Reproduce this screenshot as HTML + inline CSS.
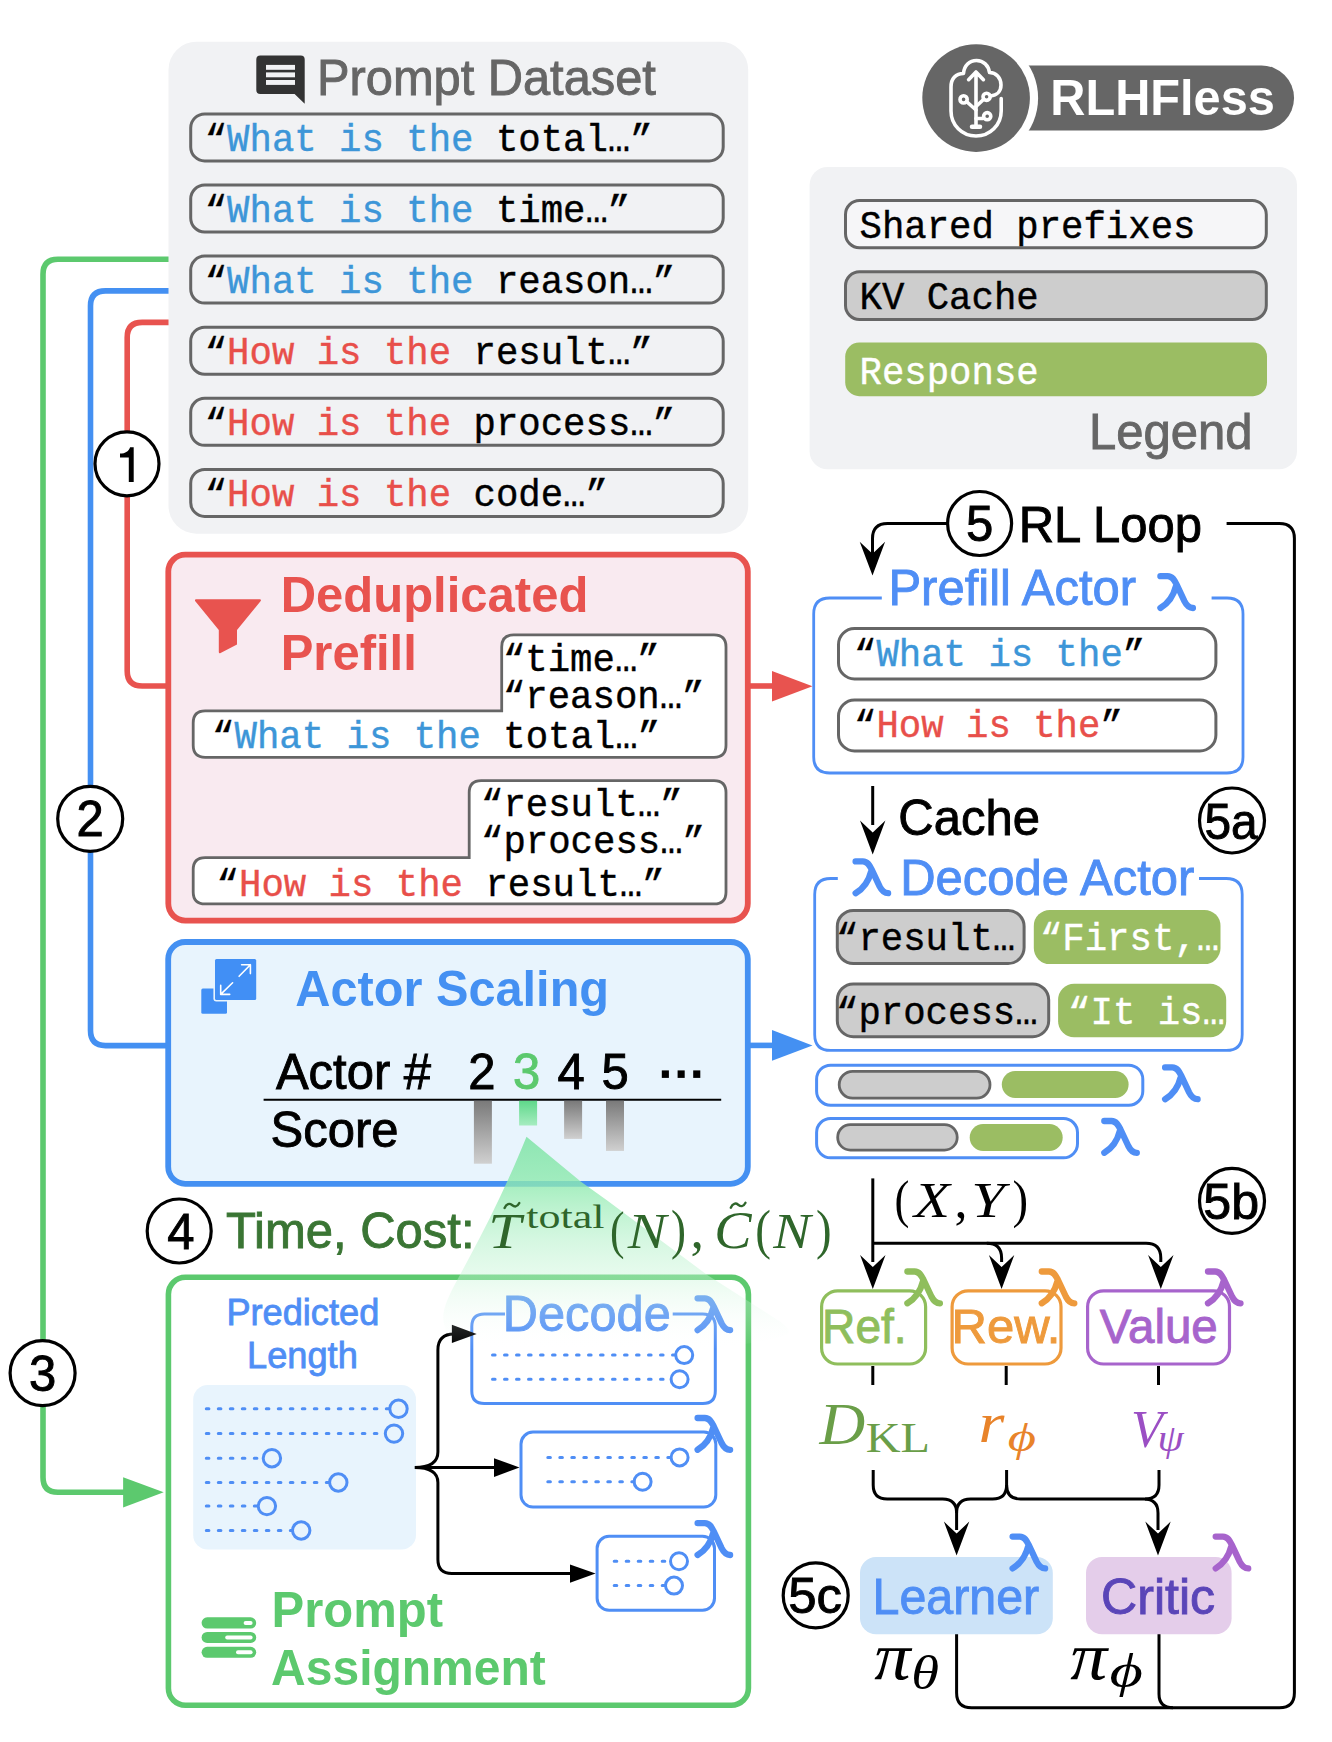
<!DOCTYPE html>
<html><head><meta charset="utf-8">
<style>
html,body{margin:0;padding:0;background:#fff;}
body{width:1332px;height:1742px;overflow:hidden;}
svg{display:block;}
.s{font-family:"Liberation Sans",sans-serif;}
.b{font-family:"Liberation Sans",sans-serif;font-weight:bold;}
.m{font-family:"Liberation Mono",monospace;font-size:37.33px;stroke:#000;stroke-width:0.4px;}
.bl{fill:#3d96d8;stroke:#3d96d8;}
.rd{fill:#e84f4a;stroke:#e84f4a;}
.wh{fill:#fff;stroke:#fff;}
.si{font-family:"Liberation Serif",serif;font-style:italic;}
.sr{font-family:"Liberation Serif",serif;}
</style></head>
<body>
<svg width="1332" height="1742" viewBox="0 0 1332 1742">
<defs>
  <g id="lam"><path d="M0,0 H7.2 C12,0 14,4 16,8 L24,25 C26,29 28,31.8 32.5,31.8 M15.5,10 C13,20 8,27 0,31.8" fill="none" stroke-width="6.3" stroke-linecap="round" stroke-linejoin="round"/></g>
  <linearGradient id="barg" x1="0" y1="0" x2="0" y2="1"><stop offset="0" stop-color="#7a7a7a"/><stop offset="1" stop-color="#d0d0d0"/></linearGradient>
  <linearGradient id="bargreen" x1="0" y1="0" x2="0" y2="1"><stop offset="0" stop-color="#5fd88a"/><stop offset="1" stop-color="#a6ecc0"/></linearGradient>
  <linearGradient id="cone" gradientUnits="userSpaceOnUse" x1="0" y1="1137" x2="0" y2="1350">
    <stop offset="0" stop-color="rgb(120,226,160)" stop-opacity="0.8"/>
    <stop offset="0.216" stop-color="rgb(143,234,175)" stop-opacity="0.8"/>
    <stop offset="0.484" stop-color="rgb(185,242,205)" stop-opacity="0.6"/>
    <stop offset="0.67" stop-color="rgb(200,245,215)" stop-opacity="0.4"/>
    <stop offset="0.836" stop-color="rgb(230,250,238)" stop-opacity="0.22"/>
    <stop offset="1" stop-color="rgb(255,255,255)" stop-opacity="0"/>
  </linearGradient>
</defs>

<!-- ===== LEFT FLOW LINES ===== -->
<g fill="none" stroke-width="5.6" stroke-linejoin="round">
  <path d="M175,259.3 H58 Q43,259.3 43,274.3 V1477.2 Q43,1492.2 58,1492.2 H126" stroke="#5cc96e"/>
  <path d="M175,290.9 H105.5 Q90.5,290.9 90.5,305.9 V1030.6 Q90.5,1045.6 105.5,1045.6 H170" stroke="#4490f2"/>
  <path d="M175,322.4 H142.2 Q127.2,322.4 127.2,337.4 V671 Q127.2,686 142.2,686 H170" stroke="#e8534f"/>
</g>
<path d="M123.1,1477.2 L163.7,1492.2 L123.1,1507.5 Z" fill="#5cc96e"/>

<!-- ===== PROMPT DATASET PANEL ===== -->
<rect x="168.5" y="41.7" width="579.7" height="492" rx="28" fill="#f1f2f4"/>
<path d="M256.3,59.6 Q256.3,55.6 260.3,55.6 H300.7 Q304.7,55.6 304.7,59.6 V103.8 L294.6,93.9 H260.3 Q256.3,93.9 256.3,89.9 Z" fill="#333"/>
<g fill="#f1f2f4"><rect x="266" y="64.9" width="29" height="4.9"/><rect x="266" y="72.4" width="29" height="4.9"/><rect x="266" y="80" width="29" height="4.9"/></g>
<text class="s" x="317" y="95.3" font-size="48.8" fill="#666" transform="matrix(1 0 0 1.03 0 -2.859)" stroke="#666" stroke-width="0.9">Prompt Dataset</text>
<g fill="none" stroke="#666" stroke-width="3">
  <rect x="190.7" y="113.9" width="532.5" height="47" rx="14"/>
  <rect x="190.7" y="185" width="532.5" height="47" rx="14"/>
  <rect x="190.7" y="256.1" width="532.5" height="47" rx="14"/>
  <rect x="190.7" y="327.2" width="532.5" height="47" rx="14"/>
  <rect x="190.7" y="398.3" width="532.5" height="47" rx="14"/>
  <rect x="190.7" y="469.4" width="532.5" height="47" rx="14"/>
</g>
<g class="m">
  <text x="204.7" y="151" transform="matrix(1 0 0 1.04 0 -6.040)">“<tspan class="bl">What is the</tspan> total…”</text>
  <text x="204.7" y="222.1" transform="matrix(1 0 0 1.04 0 -8.884)">“<tspan class="bl">What is the</tspan> time…”</text>
  <text x="204.7" y="293.2" transform="matrix(1 0 0 1.04 0 -11.728)">“<tspan class="bl">What is the</tspan> reason…”</text>
  <text x="204.7" y="364.3" transform="matrix(1 0 0 1.04 0 -14.572)">“<tspan class="rd">How is the</tspan> result…”</text>
  <text x="204.7" y="435.4" transform="matrix(1 0 0 1.04 0 -17.416)">“<tspan class="rd">How is the</tspan> process…”</text>
  <text x="204.7" y="506.5" transform="matrix(1 0 0 1.04 0 -20.260)">“<tspan class="rd">How is the</tspan> code…”</text>
</g>

<!-- step circles left -->
<g fill="#fff" stroke="#000" stroke-width="3.2">
  <circle cx="127" cy="463.8" r="32"/>
  <circle cx="90.2" cy="818.8" r="32.5"/>
  <circle cx="42.6" cy="1373.1" r="32.5"/>
  <circle cx="179.2" cy="1231" r="32"/>
</g>
<g class="s" stroke="#000" stroke-width="0.9" font-size="49" text-anchor="middle" fill="#000">
  <text x="90.2" y="836.3" transform="matrix(1 0 0 1.03 0 -25.089)">2</text>
  <text x="42.6" y="1390.6" transform="matrix(1 0 0 1.03 0 -41.718)">3</text>
  <text x="181" y="1248.6" transform="matrix(1 0 0 1.03 0 -37.458)">4</text>
</g>

<path d="M128.8,481.9 H133.7 V447.2 H130.1 C129,451 125.5,453.5 120,453.6 V457.5 H128.8 Z" fill="#000"/>
<!-- ===== RED DEDUP BOX ===== -->
<rect x="168.3" y="554.6" width="579.5" height="366" rx="17" fill="#f9eaf0" stroke="#e8534f" stroke-width="5.8"/>
<path d="M196.1,599.2 H259.7 Q261.5,599.2 260.7,601 L237,630 V644.5 L220.1,653.2 Q218.8,653.5 218.8,652 V630 L195.1,601 Q194.5,599.2 196.1,599.2 Z" fill="#e8534f"/>
<text class="b" x="280.7" y="612" font-size="49" fill="#e8534f" transform="matrix(1 0 0 1.03 0 -18.360)">Deduplicated</text>
<text class="b" x="280.7" y="670.5" font-size="49" fill="#e8534f" transform="matrix(1 0 0 1.03 0 -20.115)">Prefill</text>
<g fill="#fff" stroke="#666" stroke-width="2.8">
  <path d="M193.2,722.9 Q193.2,710.9 205.2,710.9 H501.7 V646.9 Q501.7,634.9 513.7,634.9 H714 Q726,634.9 726,646.9 V745.3 Q726,757.3 714,757.3 H205.2 Q193.2,757.3 193.2,745.3 Z"/>
  <path d="M193.2,869.6 Q193.2,857.6 205.2,857.6 H469.2 V792.6 Q469.2,780.6 481.2,780.6 H714 Q726,780.6 726,792.6 V891.9 Q726,903.9 714,903.9 H205.2 Q193.2,903.9 193.2,891.9 Z"/>
</g>
<g class="m">
  <text x="502.9" y="671.3" transform="matrix(1 0 0 1.04 0 -26.852)">“time…”</text>
  <text x="502.9" y="708.3" transform="matrix(1 0 0 1.04 0 -28.332)">“reason…”</text>
  <text x="212.1" y="748.2" transform="matrix(1 0 0 1.04 0 -29.928)">“<tspan class="bl">What is the</tspan> total…”</text>
  <text x="481" y="816.2" transform="matrix(1 0 0 1.04 0 -32.648)">“result…”</text>
  <text x="481" y="853.2" transform="matrix(1 0 0 1.04 0 -34.128)">“process…”</text>
  <text x="216.6" y="896" transform="matrix(1 0 0 1.04 0 -35.840)">“<tspan class="rd">How is the</tspan> result…”</text>
</g>
<!-- red arrow to prefill actor -->
<path d="M750,686 H775" stroke="#e8534f" stroke-width="5.6"/>
<path d="M772,671 L812.5,686.3 L772,701.6 Z" fill="#e8534f"/>

<!-- ===== BLUE ACTOR SCALING BOX ===== -->
<rect x="168.2" y="942" width="579.6" height="241.8" rx="17" fill="#e8f4fd" stroke="#4490f2" stroke-width="5.8"/>
<rect x="201.3" y="988.4" width="25.7" height="25.4" rx="1.5" fill="#418ff5"/>
<rect x="213.4" y="957.3" width="44.4" height="44.2" rx="3" fill="#e8f4fd"/>
<rect x="215" y="958.9" width="41.2" height="41" rx="1.5" fill="#418ff5"/>
<g fill="none" stroke="#fff" stroke-width="1.6" stroke-linecap="round" stroke-linejoin="round">
  <path d="M239.1,976.3 L250.4,964.7 M241.6,964.7 H250.4 V973.6"/>
  <path d="M232.6,982.8 L220.7,994.4 M220.7,985.4 V994.4 H229.7"/>
</g>
<text class="b" x="295.3" y="1005.6" font-size="48.7" fill="#4490f2" transform="matrix(1 0 0 1.03 0 -30.168)">Actor Scaling</text>
<text class="s" x="275.9" y="1088.8" font-size="49" fill="#000" transform="matrix(1 0 0 1.03 0 -32.664)" stroke="#000" stroke-width="0.9">Actor #</text>
<g class="s" stroke="#000" stroke-width="0.9" font-size="49">
  <text x="468.3" y="1089" transform="matrix(1 0 0 1.03 0 -32.670)">2</text>
  <text x="513" y="1089" fill="#5cc96e" transform="matrix(1 0 0 1.03 0 -32.670)" stroke="#5cc96e">3</text>
  <text x="557.6" y="1089" transform="matrix(1 0 0 1.03 0 -32.670)">4</text>
  <text x="601.4" y="1089" transform="matrix(1 0 0 1.03 0 -32.670)">5</text>
</g>
<g fill="#000"><rect x="661.8" y="1070.4" width="7.1" height="7.5"/><rect x="677.6" y="1070.4" width="7.1" height="7.5"/><rect x="693.2" y="1070.4" width="7.1" height="7.5"/></g>
<path d="M263.6,1099.8 H721.2" stroke="#000" stroke-width="2"/>
<text class="s" x="270.5" y="1146.7" font-size="49" fill="#000" transform="matrix(1 0 0 1.03 0 -34.401)" stroke="#000" stroke-width="0.9">Score</text>
<rect x="473.9" y="1100.8" width="18" height="62.9" fill="url(#barg)"/>
<rect x="519.1" y="1100.8" width="18" height="24.7" fill="url(#bargreen)"/>
<rect x="564.1" y="1100.8" width="18" height="38.1" fill="url(#barg)"/>
<rect x="606" y="1100.8" width="18" height="50.1" fill="url(#barg)"/>
<!-- blue arrow to decode actor -->
<path d="M750,1045.4 H775" stroke="#4490f2" stroke-width="5.6"/>
<path d="M772,1030.1 L812.5,1045.4 L772,1060.7 Z" fill="#4490f2"/>

<!-- ===== GREEN PROMPT ASSIGNMENT BOX ===== -->
<rect x="168.4" y="1277.3" width="580" height="427.9" rx="17" fill="#fff" stroke="#5cc96e" stroke-width="5.6"/>
<g class="s" stroke="#4f8ef5" stroke-width="0.8" font-size="36.2" fill="#4f8ef5">
  <text x="226.4" y="1325.2" transform="matrix(1 0 0 1.03 0 -39.756)">Predicted</text>
  <text x="247.1" y="1368.4" transform="matrix(1 0 0 1.03 0 -41.052)">Length</text>
</g>
<rect x="193.2" y="1385" width="222.8" height="164.4" rx="14.5" fill="#e8f4fd"/>
<g stroke="#4f8ef5" stroke-width="3" fill="none">
  <g stroke-dasharray="2.6 9.4" stroke-linecap="round">
    <path d="M206.3,1408.8 H389.5"/>
    <path d="M206.3,1433.6 H385"/>
    <path d="M206.3,1458.2 H263"/>
    <path d="M206.3,1482.5 H329"/>
    <path d="M206.3,1506.1 H258"/>
    <path d="M206.3,1530.5 H292"/>
    <path d="M492.5,1355.1 H675"/>
    <path d="M492.5,1379.3 H670"/>
    <path d="M547.8,1457.4 H671"/>
    <path d="M547.8,1481.7 H634"/>
    <path d="M614.2,1561.3 H670"/>
    <path d="M614.2,1585.6 H665"/>
  </g>
  <circle cx="398.5" cy="1408.8" r="8.7"/>
  <circle cx="394" cy="1433.6" r="8.7"/>
  <circle cx="271.9" cy="1458.2" r="8.7"/>
  <circle cx="338.3" cy="1482.5" r="8.7"/>
  <circle cx="266.9" cy="1506.1" r="8.7"/>
  <circle cx="301.2" cy="1530.5" r="8.7"/>
  <circle cx="684.2" cy="1355.1" r="8.5"/>
  <circle cx="679.6" cy="1379.3" r="8.5"/>
  <circle cx="679.6" cy="1457.4" r="8.5"/>
  <circle cx="642.6" cy="1481.7" r="8.5"/>
  <circle cx="679" cy="1561.3" r="8.5"/>
  <circle cx="674" cy="1585.6" r="8.5"/>
  <!-- decode boxes -->
  <path d="M505,1314 H484.3 Q471.8,1314 471.8,1326.5 V1390.9 Q471.8,1403.4 484.3,1403.4 H702.8 Q715.3,1403.4 715.3,1390.9 V1326.5 Q715.3,1314 702.8,1314 H672.7"/>
  <rect x="521" y="1432.1" width="194.8" height="74.9" rx="12"/>
  <rect x="597.1" y="1536.3" width="117.4" height="74" rx="12"/>
</g>
<text class="s" x="502.8" y="1331.3" font-size="49" fill="#4f8ef5" textLength="168" lengthAdjust="spacingAndGlyphs" transform="matrix(1 0 0 1.03 0 -39.939)" stroke="#4f8ef5" stroke-width="0.9">Decode</text>
<g stroke="#4f8ef5">
  <use href="#lam" transform="translate(697.6,1298.3)"/>
  <use href="#lam" transform="translate(697.6,1418)"/>
  <use href="#lam" transform="translate(697.6,1523.2)"/>
</g>
<!-- brace + arrows -->
<g fill="none" stroke="#000" stroke-width="3">
  <path d="M414.7,1467.4 H500 M414.7,1467.4 Q437.9,1467.4 437.9,1452 V1350 Q437.9,1334 454,1334 M414.7,1467.4 Q437.9,1467.4 437.9,1482.5 V1559.6 Q437.9,1573.6 451.9,1573.6 H575"/>
</g>
<g fill="#000">
  <path d="M451.9,1324.8 L476.7,1333.9 L451.9,1343 Z"/>
  <path d="M494,1458.2 L519.5,1467.6 L494,1477 Z"/>
  <path d="M570,1564.4 L595.6,1573.6 L570,1582.8 Z"/>
</g>
<!-- prompt icon -->
<g fill="#5cc96e">
  <rect x="201.6" y="1617.3" width="54.6" height="11.3" rx="5.65"/>
  <rect x="201.6" y="1631.9" width="54.6" height="11" rx="5.5"/>
  <rect x="201.6" y="1646.8" width="54.6" height="11" rx="5.5"/>
</g>
<g fill="#fff">
  <rect x="243.6" y="1621" width="9" height="4" rx="2"/>
  <rect x="225.2" y="1635.4" width="27.4" height="4" rx="2"/>
  <rect x="236" y="1650.3" width="16.6" height="4" rx="2"/>
</g>
<text class="b" x="271.6" y="1627.5" font-size="49" fill="#5cc96e" transform="matrix(1 0 0 1.03 0 -48.825)">Prompt</text>
<text class="b" x="271.1" y="1685.4" font-size="48" fill="#5cc96e" transform="matrix(1 0 0 1.03 0 -50.562)">Assignment</text>

<!-- ===== CONE ===== -->
<path d="M526.5,1136.7 C510.5,1176.7 489.6,1220 468,1260 L457.5,1279.5 C447,1299 441,1312 444,1324 C447,1337 455,1345 470,1350 L620,1356 C700,1352 770,1342 786,1335 C792,1331 788,1327 778.4,1320.4 L707.3,1275 L606.2,1199.8 L581,1181.8 Z" fill="url(#cone)"/>
<!-- ===== TIME COST ===== -->
<text class="s" x="225.9" y="1247.6" font-size="49" fill="#3a7534" transform="matrix(1 0 0 1.03 0 -37.428)" stroke="#3a7534" stroke-width="0.9">Time, Cost:</text>
<g fill="#2f662b">
  <text class="si" x="488.3" y="1247.7" font-size="50.5" textLength="32.8" lengthAdjust="spacingAndGlyphs">T</text>
  <text class="sr" x="526.2" y="1227.8" font-size="33.5" textLength="78.3" lengthAdjust="spacingAndGlyphs">total</text>
  <text class="sr" x="609.9" y="1248.2" font-size="53.4" textLength="14.5" lengthAdjust="spacingAndGlyphs">(</text>
  <text class="si" x="627.8" y="1248.2" font-size="51.5" textLength="38.7" lengthAdjust="spacingAndGlyphs">N</text>
  <text class="sr" x="671" y="1248.2" font-size="54" textLength="15" lengthAdjust="spacingAndGlyphs">)</text>
  <text class="sr" x="690.6" y="1248.2" font-size="54">,</text>
  <text class="si" x="714.3" y="1248.2" font-size="52.9" textLength="37.3" lengthAdjust="spacingAndGlyphs">C</text>
  <text class="sr" x="755.3" y="1248.2" font-size="54" textLength="15.7" lengthAdjust="spacingAndGlyphs">(</text>
  <text class="si" x="773.2" y="1248.2" font-size="51.5" textLength="37.4" lengthAdjust="spacingAndGlyphs">N</text>
  <text class="sr" x="815.9" y="1248.2" font-size="54" textLength="15.6" lengthAdjust="spacingAndGlyphs">)</text>
</g>
<g fill="none" stroke="#2f662b" stroke-width="2.4" stroke-linecap="round">
  <path d="M504.6,1208 C506.5,1203.5 509.5,1203 512,1205 C514.5,1207 517,1207.5 519.3,1203"/>
  <path d="M730.8,1207.7 C732.7,1203.2 735.7,1202.7 738.2,1204.7 C740.7,1206.7 743.2,1207.2 745.5,1202.7"/>
</g>
<!-- ===== LOGO ===== -->
<path d="M1000,65.5 H1261.5 A32.55,32.55 0 0 1 1261.5,130.6 H1000 Z" fill="#666"/>
<circle cx="976.1" cy="98.1" r="62" fill="#fff"/>
<circle cx="976.1" cy="98.1" r="53.8" fill="#666"/>
<g fill="none" stroke="#fff" stroke-width="3.6" stroke-linecap="round" stroke-linejoin="round">
  <path d="M1001.2,98.5 V111 C1001.2,125 990,136 976,136 C962,136 951,125 951,111 V87 C951,78.5 956,73.5 963.5,73.5 C964,65.5 969.5,60.5 976.5,60.5 C983.5,60.5 988.5,65.5 989.5,72.5 C996,72.5 1001,77.5 1001,85 C1001,91 997,95.5 990.5,96"/>
  <path d="M976,72 V126.5 M968.6,79.7 L976,72 L983.4,79.7"/>
  <path d="M976,110 L966.5,101.5 M976,106.5 L983.5,99.5 M976,118.5 H983"/>
  <path d="M972,126.8 H980" stroke-width="4.5"/>
  <circle cx="963.6" cy="99.4" r="3.6"/>
  <circle cx="986.6" cy="96.8" r="3.6"/>
  <circle cx="987.2" cy="116.2" r="3.6"/>
</g>
<text class="b" x="1050.3" y="115.1" font-size="48.7" fill="#fff" transform="matrix(1 0 0 1.03 0 -3.453)">RLHFless</text>

<!-- ===== LEGEND ===== -->
<rect x="809.6" y="166.9" width="487.4" height="302.4" rx="18" fill="#f1f2f4"/>
<rect x="845.5" y="200.5" width="420.8" height="47.2" rx="14" fill="#f6f6f8" stroke="#666" stroke-width="3"/>
<rect x="845.5" y="271.8" width="420.8" height="47.7" rx="14" fill="#cdcdcd" stroke="#666" stroke-width="3"/>
<rect x="845.2" y="342.6" width="421.8" height="53.6" rx="14" fill="#9bbd63"/>
<g class="m">
  <text x="859.5" y="238.5" transform="matrix(1 0 0 1.04 0 -9.540)">Shared prefixes</text>
  <text x="859.5" y="309.3" transform="matrix(1 0 0 1.04 0 -12.372)">KV Cache</text>
  <text x="859.5" y="384" class="wh" transform="matrix(1 0 0 1.04 0 -15.360)">Response</text>
</g>
<text class="s" x="1088.9" y="449" font-size="49" fill="#666" transform="matrix(1 0 0 1.03 0 -13.470)" stroke="#666" stroke-width="0.9">Legend</text>

<!-- ===== RL LOOP ===== -->
<g fill="none" stroke="#000" stroke-width="3">
  <path d="M947,523.5 H887.5 Q872.5,523.5 872.5,538.5 V556"/>
  <path d="M1226.6,523.5 H1279.4 Q1294.4,523.5 1294.4,538.5 V1692.8 Q1294.4,1707.8 1279.4,1707.8 H971.6 Q956.6,1707.8 956.6,1692.8 V1634"/>
  <path d="M1159,1634 V1694 Q1159,1707.8 1173,1707.8"/>
</g>
<circle cx="979.6" cy="523.5" r="32" fill="#fff" stroke="#000" stroke-width="3.2"/>
<text class="s" x="979.6" y="541" font-size="49" text-anchor="middle" transform="matrix(1 0 0 1.03 0 -16.230)" stroke="#000" stroke-width="0.9">5</text>
<text class="s" x="1018.7" y="542.2" font-size="49" transform="matrix(1 0 0 1.03 0 -16.266)" stroke="#000" stroke-width="0.9">RL Loop</text>
<path d="M872.5,575.6 L859.7,541.7 L872.5,553.7 L885.1,541.7 Z" fill="#000"/>

<!-- ===== PREFILL ACTOR ===== -->
<path d="M881.8,598 H829.7 Q813.7,598 813.7,614 V757 Q813.7,773 829.7,773 H1227 Q1243,773 1243,757 V614 Q1243,598 1227,598 H1211.6" fill="none" stroke="#4f8ef5" stroke-width="2.8"/>
<text class="s" x="888.4" y="605.3" font-size="49" fill="#4f8ef5" transform="matrix(1 0 0 1.03 0 -18.159)" stroke="#4f8ef5" stroke-width="0.9">Prefill Actor</text>
<use href="#lam" transform="translate(1160.4,576.2)" stroke="#4f8ef5"/>
<rect x="838.5" y="628.5" width="377.4" height="50.5" rx="16" fill="#fff" stroke="#666" stroke-width="3"/>
<rect x="838.5" y="700.1" width="377.4" height="50.8" rx="16" fill="#fff" stroke="#666" stroke-width="3"/>
<g class="m">
  <text x="854" y="666.2" transform="matrix(1 0 0 1.04 0 -26.648)">“<tspan class="bl">What is the</tspan>”</text>
  <text x="854" y="737.3" transform="matrix(1 0 0 1.04 0 -29.492)">“<tspan class="rd">How is the</tspan>”</text>
</g>

<!-- ===== CACHE ===== -->
<path d="M872.7,786 V825" stroke="#000" stroke-width="3" fill="none"/>
<path d="M872.7,854.5 L860,820.6 L872.7,832.6 L885.4,820.6 Z" fill="#000"/>
<text class="s" x="898.3" y="835.2" font-size="49" transform="matrix(1 0 0 1.03 0 -25.056)" stroke="#000" stroke-width="0.9">Cache</text>
<circle cx="1232" cy="820.5" r="32.5" fill="#fff" stroke="#000" stroke-width="3.2"/>
<text class="s" x="1204.4" y="838.6" font-size="49" textLength="53.2" lengthAdjust="spacingAndGlyphs" transform="matrix(1 0 0 1.03 0 -25.158)" stroke="#000" stroke-width="0.9">5a</text>

<!-- ===== DECODE ACTOR ===== -->
<path d="M837.8,878.5 H830.7 Q814.7,878.5 814.7,894.5 V1034.4 Q814.7,1050.4 830.7,1050.4 H1226.2 Q1242.2,1050.4 1242.2,1034.4 V894.5 Q1242.2,878.5 1226.2,878.5 H1199" fill="none" stroke="#4f8ef5" stroke-width="2.8"/>
<use href="#lam" transform="translate(855.6,861.4)" stroke="#4f8ef5"/>
<text class="s" x="900.2" y="895.3" font-size="49" fill="#4f8ef5" transform="matrix(1 0 0 1.03 0 -26.859)" stroke="#4f8ef5" stroke-width="0.9">Decode Actor</text>
<g stroke="#666" stroke-width="3" fill="#cdcdcd">
  <rect x="837.3" y="910.4" width="186.8" height="53.2" rx="16"/>
  <rect x="837.3" y="983.9" width="211.4" height="52.8" rx="16"/>
</g>
<g fill="#9bbd63">
  <rect x="1033.8" y="909.9" width="186.7" height="54.2" rx="16"/>
  <rect x="1058.1" y="983.7" width="168.1" height="53.6" rx="16"/>
</g>
<clipPath id="cg1"><rect x="1033.8" y="905" width="186.7" height="64"/></clipPath>
<clipPath id="cg2"><rect x="1058.1" y="980" width="168.1" height="64"/></clipPath>
<g class="m">
  <text x="836" y="949.9" transform="matrix(1 0 0 1.04 0 -37.996)">“result…</text>
  <text x="836" y="1024" transform="matrix(1 0 0 1.04 0 -40.960)">“process…</text>
  <text x="1039.9" y="949.9" class="wh" clip-path="url(#cg1)" transform="matrix(1 0 0 1.04 0 -37.996)">“First,…</text>
  <text x="1068.1" y="1024" class="wh" clip-path="url(#cg2)" transform="matrix(1 0 0 1.04 0 -40.960)">“It is…</text>
</g>
<!-- small actor rows -->
<g fill="none" stroke="#4f8ef5" stroke-width="3">
  <rect x="816.6" y="1065.2" width="326.2" height="40" rx="14"/>
  <rect x="816.6" y="1118.5" width="260.9" height="39.3" rx="14"/>
</g>
<g stroke="#666" stroke-width="2.8" fill="#cdcdcd">
  <rect x="839.2" y="1071.3" width="150.8" height="26.8" rx="13.4"/>
  <rect x="837.7" y="1124.6" width="119.5" height="25.5" rx="12.7"/>
</g>
<g fill="#9bbd63">
  <rect x="1001.8" y="1071.1" width="126.8" height="26.8" rx="13.4"/>
  <rect x="969.7" y="1124.1" width="93" height="26.8" rx="13.4"/>
</g>
<g stroke="#4f8ef5">
  <use href="#lam" transform="translate(1165.1,1067.4)"/>
  <use href="#lam" transform="translate(1104.3,1121)"/>
</g>

<!-- ===== 5b: (X,Y) & models ===== -->
<g fill="none" stroke="#000" stroke-width="3">
  <path d="M872.8,1178.4 V1262"/>
  <path d="M872.8,1243.2 H986.8 Q1001.6,1243.2 1001.6,1258 V1262"/>
  <path d="M986.8,1243.2 H1146 Q1160.8,1243.2 1160.8,1258 V1262"/>
</g>
<g fill="#000">
  <path d="M872.8,1289 L860.1,1255.1 L872.8,1267.1 L885.5,1255.1 Z"/>
  <path d="M1001.6,1289 L988.9,1255.1 L1001.6,1267.1 L1014.3,1255.1 Z"/>
  <path d="M1160.8,1289 L1148.1,1255.1 L1160.8,1267.1 L1173.5,1255.1 Z"/>
</g>
<g fill="#000">
  <text class="sr" x="894.5" y="1217.4" font-size="53.7" textLength="14.9" lengthAdjust="spacingAndGlyphs">(</text>
  <text class="si" x="914" y="1217" font-size="51.6" textLength="36" lengthAdjust="spacingAndGlyphs">X</text>
  <text class="sr" x="954.5" y="1217" font-size="52">,</text>
  <text class="si" x="971.2" y="1217" font-size="51.6" textLength="33.5" lengthAdjust="spacingAndGlyphs">Y</text>
  <text class="sr" x="1012.5" y="1217.4" font-size="53.7" textLength="15.6" lengthAdjust="spacingAndGlyphs">)</text>
</g>
<circle cx="1232" cy="1200.9" r="32.5" fill="#fff" stroke="#000" stroke-width="3.2"/>
<text class="s" x="1203.3" y="1218.6" font-size="49" textLength="55.8" lengthAdjust="spacingAndGlyphs" transform="matrix(1 0 0 1.03 0 -36.558)" stroke="#000" stroke-width="0.9">5b</text>

<rect x="821.6" y="1290.8" width="104" height="73.2" rx="16" fill="#fff" stroke="#8fbe5c" stroke-width="3.2"/>
<rect x="952.1" y="1290.8" width="108.9" height="73.2" rx="16" fill="#fff" stroke="#ee9a3c" stroke-width="3.2"/>
<rect x="1087.6" y="1290.8" width="141.9" height="73.2" rx="16" fill="#fff" stroke="#a764cc" stroke-width="3.2"/>
<text class="s" x="822.1" y="1343.3" font-size="46.5" fill="#8fbe5c" textLength="84.6" lengthAdjust="spacingAndGlyphs" transform="matrix(1 0 0 1.03 0 -40.299)" stroke="#8fbe5c" stroke-width="0.9">Ref.</text>
<text class="s" x="951.5" y="1343.3" font-size="46.5" fill="#ee9a3c" textLength="109" lengthAdjust="spacingAndGlyphs" transform="matrix(1 0 0 1.03 0 -40.299)" stroke="#ee9a3c" stroke-width="0.9">Rew.</text>
<text class="s" x="1099.8" y="1343.3" font-size="46.5" fill="#a764cc" textLength="118" lengthAdjust="spacingAndGlyphs" transform="matrix(1 0 0 1.03 0 -40.299)" stroke="#a764cc" stroke-width="0.9">Value</text>
<use href="#lam" transform="translate(907.4,1271.5)" stroke="#8fbe5c"/>
<use href="#lam" transform="translate(1041.8,1271.5)" stroke="#ee9a3c"/>
<use href="#lam" transform="translate(1208,1271.5)" stroke="#a764cc"/>
<g stroke="#000" stroke-width="3" fill="none">
  <path d="M872.8,1366 V1385 M1006.2,1366 V1385 M1158.5,1366 V1385"/>
</g>
<text class="si" x="819.5" y="1444.1" font-size="59.4" fill="#6a9e48" textLength="45.7" lengthAdjust="spacingAndGlyphs">D</text>
<text class="sr" x="865.7" y="1452.1" font-size="42.5" fill="#6a9e48" textLength="64.3" lengthAdjust="spacingAndGlyphs">KL</text>
<text class="si" x="978.6" y="1442.4" font-size="57" fill="#e8832a" textLength="25.9" lengthAdjust="spacingAndGlyphs">r</text>
<text class="si" x="1007.8" y="1451.3" font-size="41" fill="#e8832a" textLength="28.3" lengthAdjust="spacingAndGlyphs">ϕ</text>
<text class="si" x="1130.9" y="1446.9" font-size="52.4" fill="#9b4fc4">V</text>
<text class="si" x="1157.4" y="1450.9" font-size="37" fill="#9b4fc4" textLength="26.2" lengthAdjust="spacingAndGlyphs">ψ</text>

<!-- ===== braces to learner / critic ===== -->
<g fill="none" stroke="#000" stroke-width="3">
  <path d="M873.2,1470 V1485 Q873.2,1499 887.2,1499 H942.6 Q956.6,1499 956.6,1513 V1530"/>
  <path d="M1006.6,1470 V1485 Q1006.6,1499 992.6,1499 H970.6 Q956.6,1499 956.6,1513"/>
  <path d="M1006.6,1485 Q1006.6,1499 1020.6,1499 H1144 Q1158,1499 1158,1513 V1530"/>
  <path d="M1159,1470 V1485 Q1159,1499 1145,1499"/>
</g>
<g fill="#000">
  <path d="M956.6,1555.5 L943.9,1521.6 L956.6,1533.6 L969.3,1521.6 Z"/>
  <path d="M1158,1555.5 L1145.3,1521.6 L1158,1533.6 L1170.7,1521.6 Z"/>
</g>
<circle cx="815.7" cy="1595.4" r="32.5" fill="#fff" stroke="#000" stroke-width="3.2"/>
<text class="s" x="788.3" y="1613.5" font-size="49" textLength="53.8" lengthAdjust="spacingAndGlyphs" transform="matrix(1 0 0 1.03 0 -48.405)" stroke="#000" stroke-width="0.9">5c</text>
<rect x="860" y="1557" width="192.8" height="77.3" rx="16" fill="#cce3f8"/>
<rect x="1086" y="1557" width="145.6" height="77.3" rx="16" fill="#e4cdea"/>
<text class="s" x="872.5" y="1613.6" font-size="49" fill="#4f8ef5" textLength="166.7" lengthAdjust="spacingAndGlyphs" transform="matrix(1 0 0 1.03 0 -48.408)" stroke="#4f8ef5" stroke-width="0.9">Learner</text>
<text class="s" x="1101" y="1613.6" font-size="49" fill="#5a45b8" textLength="114.2" lengthAdjust="spacingAndGlyphs" transform="matrix(1 0 0 1.03 0 -48.408)" stroke="#5a45b8" stroke-width="0.9">Critic</text>
<use href="#lam" transform="translate(1012.6,1536.6)" stroke="#4f8ef5"/>
<use href="#lam" transform="translate(1215.7,1536.6)" stroke="#a764cc"/>
<g fill="#000">
  <text class="si" x="874.2" y="1678.9" font-size="67.2" textLength="36.4" lengthAdjust="spacingAndGlyphs">π</text>
  <text class="si" x="911.2" y="1688.5" font-size="49.2" textLength="27.8" lengthAdjust="spacingAndGlyphs">θ</text>
  <text class="si" x="1070.2" y="1678.9" font-size="68.7" textLength="37" lengthAdjust="spacingAndGlyphs">π</text>
  <text class="si" x="1109.6" y="1687.1" font-size="49.2" textLength="33.4" lengthAdjust="spacingAndGlyphs">ϕ</text>
</g>

<!-- PLACEHOLDER_REST -->
</svg>
</body></html>
